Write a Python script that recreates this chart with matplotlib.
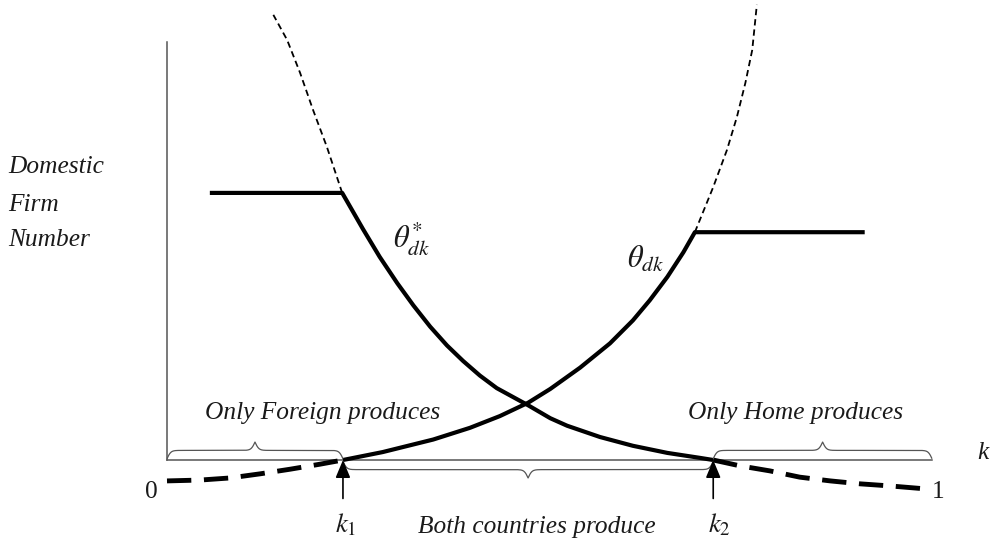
import numpy as np
import matplotlib
matplotlib.use("Agg")
import matplotlib.pyplot as plt

# k on the horizontal axis (0..1), firm number on the vertical axis
K1 = 0.230
K2 = 0.714

# theta*_dk : foreign curve (flat part, then falling to zero at k2)
theta_star_flat_k = [0.056, 0.229]
theta_star_flat_n = [0.639, 0.639]
theta_star_k = [0.229, 0.256, 0.278, 0.301, 0.322, 0.344, 0.366, 0.387, 0.409,
                0.431, 0.472, 0.501, 0.523, 0.566, 0.609, 0.654, 0.697, 0.714]
theta_star_n = [0.639, 0.553, 0.486, 0.423, 0.370, 0.319, 0.274, 0.237, 0.202,
                0.172, 0.131, 0.100, 0.082, 0.055, 0.034, 0.017, 0.005, 0.000]
theta_star_ext_k = [0.229, 0.209, 0.191, 0.174, 0.157, 0.139]
theta_star_ext_n = [0.639, 0.749, 0.837, 0.926, 1.005, 1.065]

# theta_dk : home curve (rising from zero at k1, then flat)
theta_k = [0.230, 0.282, 0.348, 0.396, 0.435, 0.472, 0.501, 0.540, 0.579,
           0.609, 0.631, 0.654, 0.675, 0.690]
theta_n = [0.000, 0.019, 0.049, 0.077, 0.105, 0.137, 0.170, 0.221, 0.279,
           0.334, 0.382, 0.438, 0.497, 0.545]
theta_flat_k = [0.690, 0.912]
theta_flat_n = [0.545, 0.545]
theta_ext_k = [0.690, 0.714, 0.732, 0.745, 0.756, 0.765, 0.771]
theta_ext_n = [0.545, 0.653, 0.742, 0.821, 0.902, 0.981, 1.089]

# negative branches below the k axis
neg_left_k = [0.000, 0.043, 0.082, 0.122, 0.161, 0.200, 0.230]
neg_left_n = [-0.050, -0.048, -0.043, -0.033, -0.022, -0.010, 0.000]
neg_right_k = [0.714, 0.749, 0.788, 0.827, 0.867, 0.906, 0.945, 0.991]
neg_right_n = [0.000, -0.014, -0.026, -0.041, -0.050, -0.057, -0.062, -0.069]

region_labels = ["Only Foreign produces", "Both countries produce", "Only Home produces"]
y_label_lines = ["Domestic", "Firm", "Number"]

plt.rcParams["mathtext.fontset"] = "stix"
SERIF = "Liberation Serif"
FS = 18.3
TXT = "#1a1a1a"


def brace(ax, x0, x1, y0, height, color="#555555", beta=400.0):
    # curly brace between x0 and x1; height > 0 points up, < 0 points down
    xs = np.linspace(x0, x1, 401)
    half = xs[:201]
    yh = (1.0 / (1.0 + np.exp(-beta * (half - half[0])))
          + 1.0 / (1.0 + np.exp(-beta * (half - half[-1]))))
    ys = np.concatenate((yh, yh[-2::-1])) - 0.5
    ax.plot(xs, y0 + ys * height, color=color, lw=0.9, solid_capstyle="butt")


fig = plt.figure(figsize=(9.92, 5.49), dpi=100)
ax = fig.add_axes([0, 0, 1, 1])
ax.set_xlim(-0.2183, 1.0784)
ax.set_ylim(-0.2129, 1.1005)
ax.axis("off")

# axes lines
ax.plot([0, 0], [0, 1], color="#555555", lw=1.1)
ax.plot([0, 1], [0, 0], color="#555555", lw=1.1)

thick = dict(color="black", lw=3.0, solid_joinstyle="round", solid_capstyle="butt")
ax.plot(theta_star_flat_k + theta_star_k[1:], theta_star_flat_n + theta_star_n[1:], **thick)
ax.plot(theta_k + theta_flat_k[1:], theta_n + theta_flat_n[1:], **thick)

ax.plot(theta_star_ext_k, theta_star_ext_n, color="black", lw=1.3, dashes=(3.5, 2.2))
ax.plot(theta_ext_k, theta_ext_n, color="black", lw=1.3, dashes=(3.5, 2.2))

ax.plot(neg_left_k, neg_left_n, color="black", lw=3.5, dashes=(5.0, 2.6))
ax.plot(neg_right_k, neg_right_n, color="black", lw=3.5, dashes=(5.0, 2.6))

# braces
brace(ax, 0.0, K1, 0.003, 0.040)
brace(ax, K1, K2, -0.003, -0.040)
brace(ax, K2, 1.0, 0.003, 0.040)

# arrows at k1, k2
for kx in (K1, K2):
    ax.annotate("", xy=(kx, 0.0), xytext=(kx, -0.092),
                arrowprops=dict(arrowstyle="-|>,head_length=0.6,head_width=0.25",
                                color="black", lw=1.2, shrinkA=0, shrinkB=0,
                                mutation_scale=18))

tkw = dict(family=SERIF, style="italic", fontsize=FS, color=TXT)
ax.text(0.204, 0.112, region_labels[0], ha="center", va="center", **tkw)
ax.text(0.484, -0.160, region_labels[1], ha="center", va="center", **tkw)
ax.text(0.821, 0.112, region_labels[2], ha="center", va="center", **tkw)

for line, n in zip(y_label_lines, [0.701, 0.610, 0.526]):
    ax.text(-0.208, n, line, ha="left", va="center", **tkw)

ax.text(1.067, 0.017, "k", ha="center", va="center", **tkw)
ax.text(-0.020, -0.077, "0", ha="center", va="center", family=SERIF, fontsize=FS, color=TXT)
ax.text(1.008, -0.077, "1", ha="center", va="center", family=SERIF, fontsize=FS, color=TXT)

ax.text(K1 + 0.004, -0.156, r"$k_1$", ha="center", va="center", fontsize=FS + 1, color=TXT)
ax.text(K2 + 0.008, -0.156, r"$k_2$", ha="center", va="center", fontsize=FS + 1, color=TXT)

ax.text(0.295, 0.507, r"$\theta^{*}_{dk}$", ha="left", va="baseline", fontsize=22, color=TXT)
ax.text(0.601, 0.459, r"$\theta_{dk}$", ha="left", va="baseline", fontsize=22, color=TXT)

fig.savefig("out.png", dpi=100)
